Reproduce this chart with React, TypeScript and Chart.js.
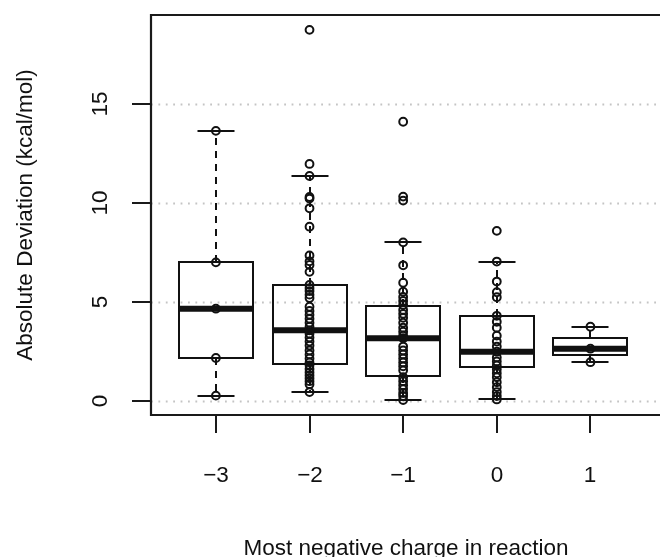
import React, { useEffect, useRef } from "react";
import Chart from "chart.js/auto";

// ---- data ----
const categories = ["\u22123", "\u22122", "\u22121", "0", "1"];
const yTickValues = [0, 5, 10, 15];

const pointsM3 = [13.64, 7.0, 4.66, 2.17, 0.27];
const pointsM2 = [18.74, 11.97, 11.36, 10.3, 10.22, 9.73, 8.8, 7.35, 7.05, 6.87, 6.52, 5.86, 5.7, 5.55, 5.37, 5.2, 4.76, 4.55, 4.35, 4.15, 3.95, 3.75, 3.57, 3.4, 3.2, 3.0, 2.8, 2.55, 2.35, 2.15, 1.95, 1.8, 1.62, 1.45, 1.3, 1.15, 1.0, 0.85, 0.45];
const pointsM1 = [14.1, 10.32, 10.12, 8.01, 6.85, 5.97, 5.52, 5.25, 5.05, 4.85, 4.6, 4.4, 4.2, 3.95, 3.7, 3.5, 3.3, 3.17, 2.75, 2.55, 2.35, 2.15, 1.95, 1.75, 1.55, 1.2, 1.0, 0.8, 0.6, 0.4, 0.25, 0.05];
const points0 = [8.59, 7.04, 6.03, 5.49, 5.24, 4.3, 4.0, 3.7, 3.3, 3.0, 2.75, 2.49, 2.2, 2.0, 1.8, 1.6, 1.4, 1.2, 0.95, 0.7, 0.45, 0.25, 0.08];
const pointsP1 = [3.75, 2.64, 1.96];

const whiskerLow = [0.27, 0.45, 0.05, 0.08, 1.96];
const q1 = [2.17, 1.85, 1.26, 1.73, 2.3];
const medians = [4.66, 3.57, 3.17, 2.49, 2.64];
const q3 = [7.0, 5.86, 4.8, 4.31, 3.2];
const whiskerHigh = [13.64, 11.36, 8.01, 7.04, 3.75];

const xTitle = "Most negative charge in reaction";
const yTitle = "Absolute Deviation (kcal/mol)";

const FONT = '"Liberation Sans", Arial, Helvetica, sans-serif';
const FONT_SIZE = 22.5;

const boxPlugin = {
  id: "boxPlugin",
  beforeDatasetsDraw(chart: any) {
    const { ctx, chartArea: a } = chart;
    const xs = chart.scales.x;
    const ys = chart.scales.y;
    ctx.save();
    // dotted grid
    ctx.strokeStyle = "#c4c4c4";
    ctx.lineWidth = 1.8;
    ctx.setLineDash([1.8, 5.6]);
    yTickValues.forEach((t) => {
      const py = Math.round(ys.getPixelForValue(t)) + 0.5;
      ctx.beginPath();
      ctx.moveTo(a.left, py);
      ctx.lineTo(660, py);
      ctx.stroke();
    });
    ctx.setLineDash([]);
    // boxes
    ctx.strokeStyle = "#111";
    categories.forEach((_, i) => {
      const cx = Math.round(xs.getPixelForValue(i + 1));
      const hw = Math.round(xs.getPixelForValue(i + 1.4) - xs.getPixelForValue(i + 1));
      const cw = hw / 2;
      const yq1 = Math.round(ys.getPixelForValue(q1[i]));
      const yq3 = Math.round(ys.getPixelForValue(q3[i]));
      const ymed = ys.getPixelForValue(medians[i]);
      const ylo = Math.round(ys.getPixelForValue(whiskerLow[i]));
      const yhi = Math.round(ys.getPixelForValue(whiskerHigh[i]));
      // whiskers dashed
      ctx.lineWidth = 2;
      ctx.setLineDash([7, 6]);
      ctx.beginPath();
      ctx.moveTo(cx, yq3);
      ctx.lineTo(cx, yhi);
      ctx.moveTo(cx, yq1);
      ctx.lineTo(cx, ylo);
      ctx.stroke();
      ctx.setLineDash([]);
      // caps
      ctx.beginPath();
      ctx.moveTo(cx - cw, yhi);
      ctx.lineTo(cx + cw, yhi);
      ctx.moveTo(cx - cw, ylo);
      ctx.lineTo(cx + cw, ylo);
      ctx.stroke();
      // box
      ctx.strokeRect(cx - hw, yq3, 2 * hw, yq1 - yq3);
      // median
      ctx.lineWidth = 6;
      ctx.beginPath();
      ctx.moveTo(cx - hw, ymed);
      ctx.lineTo(cx + hw, ymed);
      ctx.stroke();
    });
    ctx.restore();
  },
  afterDraw(chart: any) {
    const { ctx, chartArea: a } = chart;
    const xs = chart.scales.x;
    const ys = chart.scales.y;
    ctx.save();
    ctx.strokeStyle = "#1a1a1a";
    ctx.lineWidth = 2.2;
    // frame: left, top, bottom (right edge lies beyond the canvas)
    ctx.beginPath();
    ctx.moveTo(700, a.top);
    ctx.lineTo(a.left, a.top);
    ctx.lineTo(a.left, a.bottom);
    ctx.lineTo(700, a.bottom);
    ctx.stroke();
    ctx.lineWidth = 2;
    // y ticks
    ctx.fillStyle = "#111";
    ctx.font = `${FONT_SIZE}px ${FONT}`;
    yTickValues.forEach((t) => {
      const py = Math.round(ys.getPixelForValue(t));
      ctx.beginPath();
      ctx.moveTo(a.left - 19, py);
      ctx.lineTo(a.left, py);
      ctx.stroke();
      ctx.save();
      ctx.translate(106.5, py);
      ctx.rotate(-Math.PI / 2);
      ctx.textAlign = "center";
      ctx.textBaseline = "alphabetic";
      ctx.fillText(String(t), 0, 0);
      ctx.restore();
    });
    // x ticks
    categories.forEach((lab, i) => {
      const px = Math.round(xs.getPixelForValue(i + 1));
      ctx.beginPath();
      ctx.moveTo(px, a.bottom);
      ctx.lineTo(px, a.bottom + 18);
      ctx.stroke();
      ctx.textAlign = "center";
      ctx.textBaseline = "alphabetic";
      ctx.fillText(lab, px, 482);
    });
    // titles
    ctx.textAlign = "center";
    ctx.textBaseline = "alphabetic";
    ctx.fillText(xTitle, 406, 555);
    ctx.save();
    ctx.translate(32, (a.top + a.bottom) / 2);
    ctx.rotate(-Math.PI / 2);
    ctx.fillText(yTitle, 0, 0);
    ctx.restore();
    ctx.restore();
  },
};

export default function App() {
  const ref = useRef<HTMLCanvasElement | null>(null);
  useEffect(() => {
    if (!ref.current) return;
    const groups = [pointsM3, pointsM2, pointsM1, points0, pointsP1];
    const datasets = groups.map((g, i) => ({
      label: categories[i],
      data: g.map((v) => ({ x: i + 1, y: v })),
      pointStyle: "circle",
      pointRadius: 3.9,
      pointBorderWidth: 2,
      borderColor: "#111",
      backgroundColor: "rgba(0,0,0,0)",
      pointBackgroundColor: "rgba(0,0,0,0)",
      showLine: false,
    }));
    const chart = new Chart(ref.current, {
      type: "scatter",
      data: { datasets },
      options: {
        animation: false,
        responsive: false,
        devicePixelRatio: 1,
        layout: { padding: { left: 151, top: 15, right: 0, bottom: 142 } },
        scales: {
          x: { type: "linear", min: 0.307, max: 5.679, display: false },
          y: { type: "linear", min: -0.707, max: 19.49, display: false },
        },
        plugins: { legend: { display: false }, tooltip: { enabled: false } },
      },
      plugins: [boxPlugin],
    } as any);
    return () => chart.destroy();
  }, []);
  return (
    <div style={{ position: "absolute", left: 0, top: 0, width: 660, height: 557, background: "#fff", overflow: "hidden" }}>
      <canvas ref={ref} width={660} height={557} />
    </div>
  );
}
